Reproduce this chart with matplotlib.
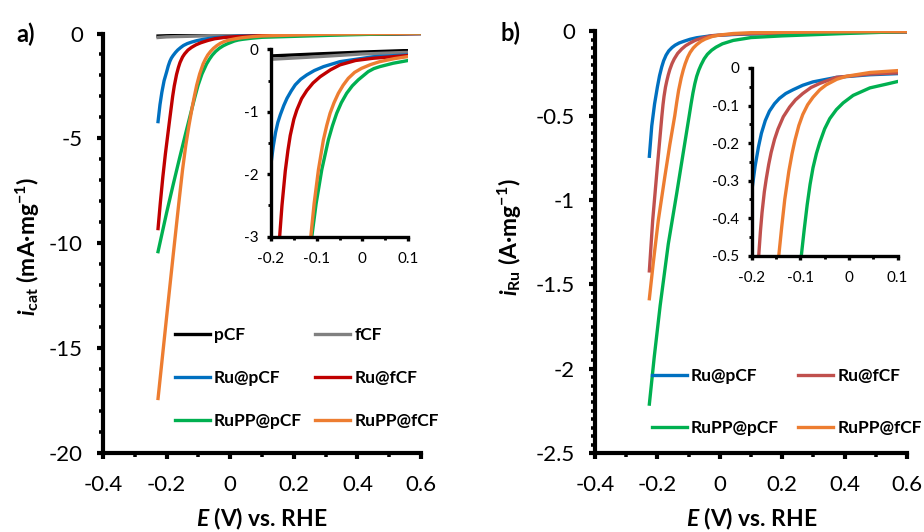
import matplotlib
matplotlib.use('Agg')
import matplotlib.pyplot as plt
from matplotlib.ticker import MultipleLocator, FuncFormatter

plt.rcParams['font.family'] = ['Lato', 'DejaVu Sans']
plt.rcParams['axes.unicode_minus'] = False
plt.rcParams['mathtext.fontset'] = 'custom'
plt.rcParams['mathtext.rm'] = 'Lato:bold'
plt.rcParams['mathtext.bf'] = 'Lato:bold'
plt.rcParams['mathtext.it'] = 'Lato:italic:bold'

# ---- panel a: i_cat (mA/mg) vs E (V vs RHE) ----
a_pcf_E = [-0.227, -0.2, -0.1, 0.0, 0.1, 0.3, 0.6]
a_pcf_i = [-0.12, -0.107, -0.075, -0.045, -0.02, -0.01, 0.0]
a_fcf_E = [-0.227, -0.2, -0.1, 0.0, 0.1, 0.3, 0.6]
a_fcf_i = [-0.19, -0.16, -0.12, -0.075, -0.05, -0.02, 0.0]
a_ru_pcf_E = [-0.227, -0.221, -0.215, -0.208, -0.2, -0.195, -0.19, -0.185, -0.1797,
              -0.172, -0.165, -0.156, -0.147, -0.135, -0.1216, -0.105, -0.085,
              -0.049, 0.0237, 0.1, 0.3, 0.6]
a_ru_pcf_i = [-4.2, -3.4, -2.8, -2.25, -1.83, -1.55, -1.33, -1.17, -1.05,
              -0.9, -0.785, -0.67, -0.57, -0.48, -0.41, -0.34, -0.278,
              -0.198, -0.12, -0.09, -0.04, 0.0]
a_ru_fcf_E = [-0.227, -0.22, -0.212, -0.204, -0.197, -0.19, -0.1811, -0.176,
              -0.1688, -0.163, -0.1579, -0.15, -0.1434, -0.133, -0.1216, -0.108,
              -0.0925, -0.07, -0.049, -0.015, 0.0237, 0.1, 0.3, 0.6]
a_ru_fcf_i = [-9.3, -8.1, -6.85, -5.75, -4.9, -4.05, -3.0, -2.5,
              -1.95, -1.62, -1.38, -1.12, -0.97, -0.79, -0.66, -0.54,
              -0.44, -0.33, -0.25, -0.18, -0.144, -0.1, -0.05, 0.0]
a_rupp_pcf_E = [-0.227, -0.2, -0.18, -0.16, -0.14, -0.12, -0.1107, -0.1012,
                -0.0889, -0.0744, -0.0655, -0.0562, -0.046, -0.0344, -0.022,
                -0.009, 0.0128, 0.025, 0.0382, 0.0672, 0.1, 0.325, 0.6]
a_rupp_pcf_i = [-10.4, -8.54, -7.24, -5.98, -4.75, -3.55, -3.0, -2.47,
                -1.93, -1.45, -1.225, -1.025, -0.855, -0.705, -0.585,
                -0.49, -0.358, -0.31, -0.278, -0.224, -0.18, -0.08, 0.02]
a_rupp_fcf_E = [-0.227, -0.2, -0.18, -0.16, -0.15, -0.14, -0.13, -0.12, -0.1129,
                -0.1056, -0.0962, -0.0853, -0.078, -0.0707, -0.062, -0.0526,
                -0.042, -0.0308, -0.017, -0.0017, 0.018, 0.0382, 0.07, 0.1, 0.3, 0.6]
a_rupp_fcf_i = [-17.4, -13.5, -10.65, -7.85, -6.5, -5.35, -4.4, -3.55, -3.0,
                -2.47, -1.93, -1.45, -1.22, -1.025, -0.855, -0.705,
                -0.575, -0.465, -0.37, -0.305, -0.245, -0.198, -0.15, -0.117, -0.03, 0.02]

# ---- panel b: i_Ru (A/mg) vs E ----
b_ru_pcf_E = [-0.2257, -0.218, -0.209, -0.2, -0.193, -0.186, -0.18, -0.172, -0.1635,
              -0.153, -0.143, -0.13, -0.115, -0.095, -0.074, -0.026, 0.043, 0.1, 0.3, 0.6]
b_ru_pcf_i = [-0.74, -0.56, -0.43, -0.33, -0.262, -0.21, -0.174, -0.14, -0.115,
              -0.095, -0.081, -0.068, -0.058, -0.046, -0.037, -0.025, -0.018, -0.015,
              -0.008, -0.003]
b_ru_fcf_E = [-0.2257, -0.215, -0.2, -0.1855, -0.182, -0.1787, -0.174, -0.170, -0.165,
              -0.160, -0.153, -0.146, -0.135, -0.122, -0.11, -0.095, -0.078, -0.06,
              -0.026, 0.043, 0.1, 0.3, 0.6]
b_ru_fcf_i = [-1.42, -1.12, -0.8, -0.5, -0.435, -0.385, -0.33, -0.295, -0.257,
              -0.225, -0.19, -0.163, -0.13, -0.104, -0.085, -0.068, -0.052, -0.041,
              -0.025, -0.016, -0.013, -0.007, -0.003]
b_rupp_pcf_E = [-0.2257, -0.21, -0.191, -0.165, -0.138, -0.115, -0.098, -0.092,
                -0.086, -0.08, -0.074, -0.067, -0.06, -0.05, -0.0396, -0.026, -0.012,
                0.0085, 0.043, 0.077, 0.1, 0.2, 0.4, 0.6]
b_rupp_pcf_i = [-2.21, -1.93, -1.625, -1.26, -0.96, -0.695, -0.5, -0.43,
                -0.365, -0.31, -0.266, -0.228, -0.198, -0.162, -0.135, -0.111, -0.093,
                -0.073, -0.053, -0.043, -0.036, -0.026, -0.012, 0.0]
b_rupp_fcf_E = [-0.2257, -0.213, -0.197, -0.176, -0.16, -0.1443, -0.138, -0.132,
                -0.1236, -0.117, -0.111, -0.103, -0.095, -0.085, -0.074, -0.06, -0.047,
                -0.025, -0.005, 0.043, 0.1, 0.3, 0.6]
b_rupp_fcf_i = [-1.585, -1.37, -1.12, -0.86, -0.67, -0.5, -0.42, -0.35,
                -0.275, -0.228, -0.192, -0.153, -0.124, -0.098, -0.078, -0.058, -0.045,
                -0.03, -0.022, -0.012, -0.007, -0.003, 0.0]

colors = {'pCF': '#000000', 'fCF': '#808080', 'Ru@pCF': '#0070C0',
          'Ru@fCF': '#C00000', 'RuPP@pCF': '#00B050', 'RuPP@fCF': '#ED7D31'}
b_colors = dict(colors, **{'Ru@fCF': '#C0504D'})

series_a = [('pCF', a_pcf_E, a_pcf_i), ('fCF', a_fcf_E, a_fcf_i),
            ('Ru@pCF', a_ru_pcf_E, a_ru_pcf_i), ('Ru@fCF', a_ru_fcf_E, a_ru_fcf_i),
            ('RuPP@pCF', a_rupp_pcf_E, a_rupp_pcf_i),
            ('RuPP@fCF', a_rupp_fcf_E, a_rupp_fcf_i)]
series_b = [('Ru@pCF', b_ru_pcf_E, b_ru_pcf_i), ('Ru@fCF', b_ru_fcf_E, b_ru_fcf_i),
            ('RuPP@pCF', b_rupp_pcf_E, b_rupp_pcf_i),
            ('RuPP@fCF', b_rupp_fcf_E, b_rupp_fcf_i)]

fmt = FuncFormatter(lambda v, p: f'{v:g}' if abs(v) > 1e-9 else '0')


def style(ax, lw, mj, mn, fs, pad_x, pad_y, xs, ys):
    for s in ['top', 'right']:
        ax.spines[s].set_visible(False)
    for s in ['left', 'bottom']:
        ax.spines[s].set_linewidth(lw)
    ax.xaxis.set_major_locator(MultipleLocator(xs[0]))
    ax.xaxis.set_minor_locator(MultipleLocator(xs[1]))
    ax.yaxis.set_major_locator(MultipleLocator(ys[0]))
    ax.yaxis.set_minor_locator(MultipleLocator(ys[1]))
    ax.xaxis.set_major_formatter(fmt)
    ax.yaxis.set_major_formatter(fmt)
    ax.tick_params(which='major', direction='out', length=mj, width=lw, labelsize=fs)
    ax.tick_params(which='minor', direction='out', length=mn, width=lw * 0.85)
    ax.tick_params(axis='x', pad=pad_x)
    ax.tick_params(axis='y', pad=pad_y)
    ax.patch.set_alpha(0)


fig = plt.figure(figsize=(9.24, 5.32), dpi=100)

# panel a
ax1 = fig.add_axes([0.1115, 0.1485, 0.3442, 0.7885])
handles = {}
for name, E, i in series_a:
    handles[name], = ax1.plot(E, i, color=colors[name], lw=2.4)
ax1.set_xlim(-0.4, 0.6)
ax1.set_ylim(-20, 0)
style(ax1, 3.0, 4.5, 2.8, 16, 11, 10, (0.2, 0.1), (5, 1))
order = ['pCF', 'Ru@pCF', 'RuPP@pCF', 'fCF', 'Ru@fCF', 'RuPP@fCF']
ax1.legend([handles[k] for k in order], order, ncol=2, loc='upper left',
           bbox_to_anchor=(175 / 924, 1 - 327 / 532), bbox_transform=fig.transFigure,
           frameon=False, borderpad=0, borderaxespad=0, handlelength=2.0,
           handletextpad=0.25, columnspacing=0.75, labelspacing=1.55,
           prop={'weight': 'bold', 'size': 12.5})

ins1 = fig.add_axes([0.2933, 0.5551, 0.1483, 0.3523])
for name, E, i in series_a:
    ins1.plot(E, i, color=colors[name], lw=2.4)
ins1.set_xlim(-0.2, 0.1)
ins1.set_ylim(-3, 0)
style(ins1, 2.4, 3.0, 2.0, 11, 8, 6, (0.1, 0.05), (1, 0.5))

# panel b
ax2 = fig.add_axes([0.6439, 0.1485, 0.3377, 0.7923])
hb = {}
for name, E, i in series_b:
    hb[name], = ax2.plot(E, i, color=b_colors[name], lw=2.4)
ax2.set_xlim(-0.4, 0.6)
ax2.set_ylim(-2.5, 0)
style(ax2, 3.0, 4.5, 2.8, 16, 11, 10, (0.2, 0.1), (0.5, 0.05))
order_b = ['Ru@pCF', 'RuPP@pCF', 'Ru@fCF', 'RuPP@fCF']
ax2.legend([hb[k] for k in order_b], order_b, ncol=2, loc='upper left',
           bbox_to_anchor=(652 / 924, 1 - 368 / 532), bbox_transform=fig.transFigure,
           frameon=False, borderpad=0, borderaxespad=0, handlelength=2.0,
           handletextpad=0.25, columnspacing=1.1, labelspacing=2.1,
           prop={'weight': 'bold', 'size': 12.5})

ins2 = fig.add_axes([0.8135, 0.5194, 0.158, 0.3528])
for name, E, i in series_b:
    ins2.plot(E, i, color=b_colors[name], lw=2.4)
ins2.set_xlim(-0.2, 0.1)
ins2.set_ylim(-0.5, 0)
style(ins2, 2.4, 3.0, 2.0, 11, 8, 6, (0.1, 0.05), (0.1, 0.05))

# labels
fig.text(26 / 924, 1 - 34 / 532, 'a)', fontsize=17, fontweight='bold', ha='center', va='center')
fig.text(510 / 924, 1 - 33 / 532, 'b)', fontsize=17, fontweight='bold', ha='center', va='center')
fig.text(28 / 924, 1 - 246 / 532, r'$\mathit{i}_{\mathrm{cat}}$ (mA·mg$^{-1}$)',
         fontsize=16.5, fontweight='bold', rotation=90, ha='center', va='center')
fig.text(510 / 924, 1 - 237 / 532, r'$\mathit{i}_{\mathrm{Ru}}$ (A·mg$^{-1}$)',
         fontsize=16.5, fontweight='bold', rotation=90, ha='center', va='center')
fig.text(262 / 924, 1 - 519 / 532, r'$\mathit{E}$ (V) vs. RHE',
         fontsize=16.5, fontweight='bold', ha='center', va='center')
fig.text(752 / 924, 1 - 519 / 532, r'$\mathit{E}$ (V) vs. RHE',
         fontsize=16.5, fontweight='bold', ha='center', va='center')

fig.savefig('out.png', dpi=100)
